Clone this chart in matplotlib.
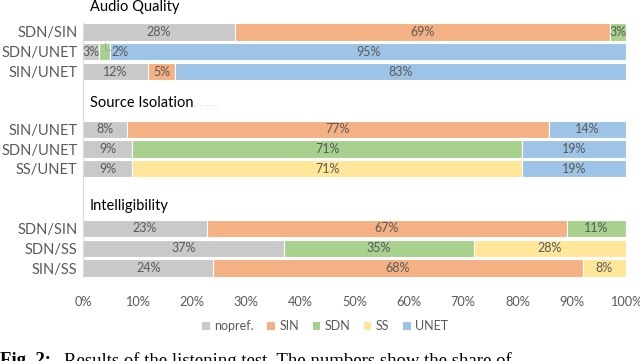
import matplotlib
matplotlib.use('Agg')
import numpy as np
import matplotlib.pyplot as plt
from matplotlib.patches import Patch

# preference categories (stack order)
prefs = ["nopref.", "SIN", "SDN", "SS", "UNET"]
colors = ["#C9C9C9", "#F4B183", "#A9D18E", "#FFE699", "#9DC3E6"]

groups = ["Audio Quality", "Source Isolation", "Intelligibility"]
rows = ["SDN/SIN", "SDN/UNET", "SIN/UNET",
        "SIN/UNET", "SDN/UNET", "SS/UNET",
        "SDN/SIN", "SDN/SS", "SIN/SS"]

# percentages per row, one list per category (0 = not in the comparison)
nopref = [28, 3, 12, 8, 9, 9, 23, 37, 24]
sin    = [69, 0, 5, 77, 0, 0, 67, 0, 68]
sdn    = [3, 2, 0, 0, 71, 0, 11, 35, 0]
ss     = [0, 0, 0, 0, 0, 71, 0, 28, 8]
unet   = [0, 95, 83, 14, 19, 19, 0, 0, 0]

data = np.array([nopref, sin, sdn, ss, unet], dtype=float)
shares = data / data.sum(axis=0) * 100  # 100% stacked bar

ypos = [0, 1, 2, 4.9, 5.9, 6.9, 9.9, 10.9, 11.9]
header_y = [-1.25, 3.6, 8.75]
barh = 0.87
grey = "#595959"
font = "Lato"

fig = plt.figure(figsize=(6.4, 3.61), dpi=100)
ax = fig.add_axes([83 / 640, 1 - 277 / 361, 543 / 640, 254 / 361])

left = np.zeros(len(rows))
for i, name in enumerate(prefs):
    vals = shares[i]
    ax.barh(ypos, vals, barh, left=left, color=colors[i],
            edgecolor="white", linewidth=0.8, label=name)
    for j, v in enumerate(vals):
        if data[i][j] == 0:
            continue
        txt = "%d%%" % data[i][j]
        cx = left[j] + v / 2
        if name == "SDN" and j == 1:
            # small slice: label pushed to the right with a leader line
            ax.plot([cx, cx, cx + 1.0], [ypos[j] - 0.45, ypos[j] - 0.1, ypos[j] - 0.1],
                    color="#A6A6A6", lw=0.7)
            ax.text(cx + 1.3, ypos[j], txt, ha="left", va="center",
                    fontsize=9, color=grey, family=font)
            continue
        ax.text(cx, ypos[j], txt, ha="center", va="center",
                fontsize=9, color=grey, family=font)
    left += vals

for g, hy in zip(groups, header_y):
    ax.text(1.2, hy, g, ha="left", va="center", fontsize=10.5,
            color="black", family=font, clip_on=False)
ax.text(20.5, header_y[1] + 0.1, "·  ·  ·· ·· ··", ha="left", va="center",
        fontsize=4, color="#9a9a9a", clip_on=False)

ax.set_ylim(12.35, -0.45)
ax.set_xlim(0, 100)
ax.set_yticks(ypos)
ax.set_yticklabels(rows, fontsize=10.5, color=grey, family=font)
ax.set_xticks(np.arange(0, 101, 10))
ax.set_xticklabels(["%d%%" % t for t in range(0, 101, 10)],
                   fontsize=9.2, color=grey, family=font)
ax.tick_params(axis="both", which="both", length=0)
ax.tick_params(axis="x", pad=14)
ax.tick_params(axis="y", pad=4)

ax.spines["top"].set_visible(False)
ax.spines["right"].set_visible(False)
ax.spines["bottom"].set_visible(False)
ax.spines["left"].set_color("#D9D9D9")

handles = [Patch(facecolor=c, edgecolor="none") for c in colors]
fig.legend(handles, prefs, loc="center", bbox_to_anchor=(325 / 640, 1 - 326 / 361),
           ncol=5, frameon=False, handlelength=0.6, handleheight=0.6,
           handletextpad=0.35, columnspacing=1.1,
           prop={"family": font, "size": 9}, labelcolor=grey)

# caption of the paper figure, cut by the bottom edge
fig.text(0.0, 1 - 352 / 361, "Fig. 2:", ha="left", va="top", fontsize=13.5,
         family="Liberation Serif", weight="bold")
fig.text(64 / 640, 1 - 352 / 361,
         "Results of the listening test. The numbers show the share of",
         ha="left", va="top", fontsize=13.5, family="Liberation Serif")

plt.savefig("out.png", dpi=100)
